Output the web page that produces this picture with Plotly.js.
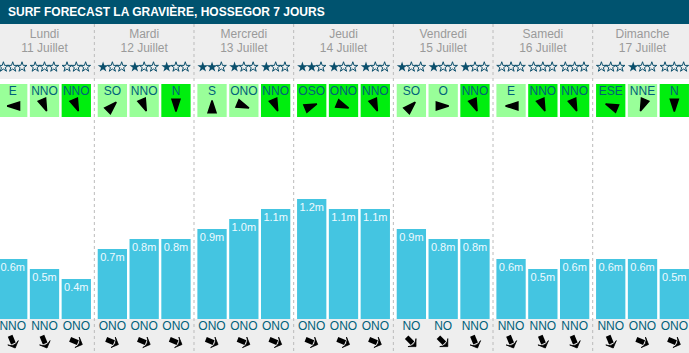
<!DOCTYPE html>
<html>
<head>
<meta charset="utf-8">
<script src="https://cdn.plot.ly/plotly-3.0.1.min.js"></script>
<style>html,body{margin:0;padding:0;background:#fff;}#chart{width:689px;height:353px;}</style>
</head>
<body>
<div id="chart"></div>
<script>
// ---- data ----
const chartTitle = "SURF FORECAST LA GRAVIÈRE, HOSSEGOR 7 JOURS";
const days = ["Lundi","Mardi","Mercredi","Jeudi","Vendredi","Samedi","Dimanche"];
const dates = ["11 Juillet","12 Juillet","13 Juillet","14 Juillet","15 Juillet","16 Juillet","17 Juillet"];
const waveHeights = [0.6,0.5,0.4, 0.7,0.8,0.8, 0.9,1.0,1.1, 1.2,1.1,1.1, 0.9,0.8,0.8, 0.6,0.5,0.6, 0.6,0.6,0.5];
const swellDir = ["NNO","NNO","ONO", "ONO","ONO","ONO", "ONO","ONO","ONO", "ONO","ONO","ONO", "NO","NO","NNO", "NNO","NNO","NNO", "NNO","ONO","ONO"];
const stars = [0,0,0, 1,1,1, 2,1,1, 2,1,1, 1,1,1, 0,0,0, 0,1,0];
const windDir = ["E","NNO","NNO", "SO","NNO","N", "S","ONO","NNO", "OSO","ONO","NNO", "SO","O","NNO", "E","NNO","NNO", "ESE","NNE","N"];
const windStrong = [0,0,1, 0,0,1, 0,0,1, 1,1,1, 0,0,1, 0,1,1, 1,0,1];

// compass lookup (French abbreviations)
const compass = {N:0,NNE:22.5,NE:45,ENE:67.5,E:90,ESE:112.5,SE:135,SSE:157.5,S:180,SSO:202.5,SO:225,OSO:247.5,O:270,ONO:292.5,NO:315,NNO:337.5};

// ---- layout constants ----
const W = 689, H = 353;
const DAY_PX = 99.67, X0_PX = 44.5;
const SLOT = 31.8 / DAY_PX, BARW = 29.3 / DAY_PX;
const STAR_DX = 9.3 / DAY_PX;
const FONT = "Liberation Sans, Arial, sans-serif";
const C = {
  header: "#00536f", gray: "#eeeeee", bar: "#44c5e1", light: "#99ff99", strong: "#00ee0e",
  teal: "#00617a", star: "#0b4f6c", day: "#9a9a9a", sep: "#bbbbbb"
};

const xs = waveHeights.map((_, i) => Math.floor(i / 3) + (i % 3 - 1) * SLOT);
const dayX = days.map((_, d) => d);
const flowAngle = d => (compass[d] + 180) % 360;   // arrow points where the flow goes
// pixel offset along an angle (clockwise from up) -> [dx in data units, dy in px (y2 axis, down positive)]
const along = (ang, dist) => {
  const a = ang * Math.PI / 180;
  return [Math.sin(a) * dist / DAY_PX, -Math.cos(a) * dist];
};

const traces = [];
// wind boxes
traces.push({type:"bar", x: xs, y: xs.map(() => 33), base: 84, yaxis: "y2", width: BARW,
  marker: {color: windStrong.map(s => s ? C.strong : C.light), line: {width: 0}}, hoverinfo: "skip"});
// wave bars
traces.push({type:"bar", x: xs, y: waveHeights, yaxis: "y", width: BARW,
  marker: {color: C.bar, line: {width: 0}}, hoverinfo: "skip"});
// wave labels (4px below the bar top)
traces.push({type:"scatter", mode:"text", x: xs, y: waveHeights.map(v => v - 0.04), yaxis: "y",
  text: waveHeights.map(v => v.toFixed(1) + "m"), textposition: "bottom center",
  textfont: {family: FONT, size: 11, color: "#eefaff"}, hoverinfo: "skip"});
// wind labels
traces.push({type:"scatter", mode:"text", x: xs, y: xs.map(() => 92), yaxis: "y2",
  text: windDir, textposition: "middle center",
  textfont: {family: FONT, size: 12, color: C.teal}, hoverinfo: "skip"});
// wind arrows ('arrow' symbol has its tip at the point: shift tip forward by half its length)
const WA = 13;
const windAng = windDir.map(flowAngle);
traces.push({type:"scatter", mode:"markers",
  x: xs.map((x, i) => x + along(windAng[i], 5.5)[0]),
  y: xs.map((x, i) => 106 + along(windAng[i], 5.5)[1]), yaxis: "y2",
  marker: {symbol: "arrow", size: WA, color: "#000", angle: windAng, line: {width: 1.5, color: "#000"}},
  hoverinfo: "skip"});
// stars
const sfx = [], sfy = [], sox = [], soy = [];
stars.forEach((n, i) => {
  for (let k = 0; k < 3; k++) {
    const x = xs[i] + (k - 1) * STAR_DX;
    if (k < n) { sfx.push(x); sfy.push(67); } else { sox.push(x); soy.push(67); }
  }
});
traces.push({type:"scatter", mode:"markers", x: sfx, y: sfy, yaxis: "y2",
  marker: {symbol: "star", size: 8, color: C.star, line: {width: 0}}, hoverinfo: "skip"});
traces.push({type:"scatter", mode:"markers", x: sox, y: soy, yaxis: "y2",
  marker: {symbol: "star-open", size: 7.5, color: C.star, line: {width: 1, color: C.star}}, hoverinfo: "skip"});
// swell labels
traces.push({type:"scatter", mode:"text", x: xs, y: xs.map(() => 327), yaxis: "y2",
  text: swellDir, textposition: "middle center",
  textfont: {family: FONT, size: 12, color: C.teal}, hoverinfo: "skip"});
// swell arrows: thick tail + wide head
const swellAng = swellDir.map(flowAngle);
traces.push({type:"scatter", mode:"markers",
  x: xs.map((x, i) => x + along(swellAng[i], -2.5)[0]),
  y: xs.map((x, i) => 342 + along(swellAng[i], -2.5)[1]), yaxis: "y2",
  marker: {symbol: "line-ns", size: 6, angle: swellAng, color: "#000", line: {width: 5, color: "#000"}},
  hoverinfo: "skip"});
traces.push({type:"scatter", mode:"markers",
  x: xs.map((x, i) => x + along(swellAng[i], 6.5)[0]),
  y: xs.map((x, i) => 342 + along(swellAng[i], 6.5)[1]), yaxis: "y2",
  marker: {symbol: "arrow-wide", size: 8, angle: swellAng, color: "#000", line: {width: 0.8, color: "#000"}},
  hoverinfo: "skip"});
// day labels
traces.push({type:"scatter", mode:"text", x: dayX, y: dayX.map(() => 35), yaxis: "y2",
  text: days, textposition: "middle center",
  textfont: {family: FONT, size: 12, color: C.day}, hoverinfo: "skip"});
traces.push({type:"scatter", mode:"text", x: dayX, y: dayX.map(() => 49), yaxis: "y2",
  text: dates, textposition: "middle center",
  textfont: {family: FONT, size: 12, color: C.day}, hoverinfo: "skip"});

const shapes = [
  {type:"rect", xref:"paper", yref:"y2", x0:0, x1:1, y0:0, y1:24, fillcolor:C.header, line:{width:0}, layer:"below"},
  {type:"rect", xref:"paper", yref:"y2", x0:0, x1:1, y0:24, y1:79, fillcolor:C.gray, line:{width:0}, layer:"below"},
  {type:"rect", xref:"paper", yref:"y2", x0:0, x1:1, y0:319, y1:353, fillcolor:C.gray, line:{width:0}, layer:"below"}
];
for (let d = 0; d < days.length - 1; d++) {
  shapes.push({type:"line", xref:"x", yref:"y2", x0:d + 0.5, x1:d + 0.5, y0:24, y1:353,
    line:{color:C.sep, width:1, dash:"3px,3px"}, layer:"below"});
}

const layout = {
  width: W, height: H,
  margin: {l:0, r:0, t:0, b:0, pad:0},
  paper_bgcolor: "#ffffff", plot_bgcolor: "rgba(0,0,0,0)",
  showlegend: false, barmode: "overlay",
  title: {text: chartTitle, x: 8 / W, xanchor: "left", xref: "paper", y: 1 - 12 / H, yanchor: "middle", yref: "container",
    font: {family: FONT, size: 12, color: "#ffffff", weight: "bold"}},
  xaxis: {range: [-X0_PX / DAY_PX, (W - X0_PX) / DAY_PX], visible: false, fixedrange: true},
  yaxis: {range: [-0.34, 3.19], domain: [0, 1], visible: false, fixedrange: true},
  yaxis2: {range: [H, 0], overlaying: "y", visible: false, fixedrange: true},
  shapes: shapes
};

Plotly.newPlot("chart", traces, layout, {displayModeBar: false, staticPlot: true});
</script>
</body>
</html>
